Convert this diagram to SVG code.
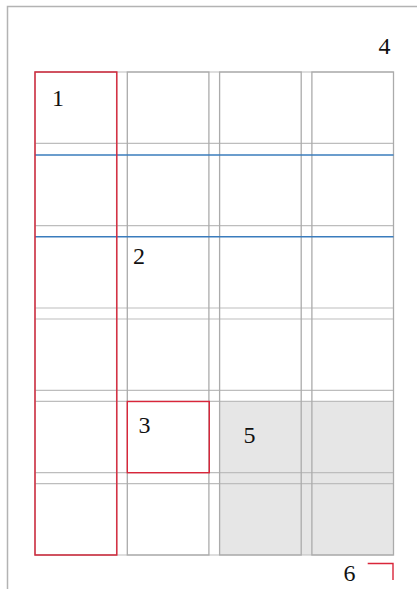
<svg xmlns="http://www.w3.org/2000/svg" width="417" height="589" viewBox="0 0 417 589">
<style>
.page{stroke:#b3b3b3;stroke-width:1.5;fill:none}
.col{fill:none;stroke:#ababab;stroke-width:1.3}
.row{stroke:#bdbdbd;stroke-width:1.2}
.base{stroke:#3a7cbd;stroke-width:1.4}
.red{fill:none;stroke:#d9263a;stroke-width:1.4}
.lbl{font-family:"Liberation Serif","Times New Roman",serif;font-size:24px;fill:#111;text-anchor:middle}
</style>
<rect width="417" height="589" fill="#ffffff"/>
<g id="page">
<polyline class="page" points="7.5,589 7.5,6.5 417,6.5"/>
</g>
<g id="shade">
<rect x="219.6" y="401.3" width="173.9" height="153.7" fill="#e6e6e6"/>
</g>
<g id="grid">
<g id="rows">
<line class="row" x1="35" y1="72" x2="393.5" y2="72"/>
<line class="row" x1="35" y1="143.3" x2="393.5" y2="143.3"/>
<line class="row" x1="35" y1="225.7" x2="393.5" y2="225.7"/>
<line class="row" x1="35" y1="308" x2="393.5" y2="308"/>
<line class="row" x1="35" y1="319" x2="393.5" y2="319"/>
<line class="row" x1="35" y1="390.3" x2="393.5" y2="390.3"/>
<line class="row" x1="35" y1="401.3" x2="393.5" y2="401.3"/>
<line class="row" x1="35" y1="472.7" x2="393.5" y2="472.7"/>
<line class="row" x1="35" y1="483.7" x2="393.5" y2="483.7"/>
<line class="row" x1="35" y1="555" x2="393.5" y2="555"/>
</g>
<g id="cols">
<rect class="col" x="35" y="72" width="81.6" height="483"/>
<rect class="col" x="127.3" y="72" width="81.6" height="483"/>
<rect class="col" x="219.6" y="72" width="81.6" height="483"/>
<rect class="col" x="311.9" y="72" width="81.6" height="483"/>
</g>
<g id="baselines">
<line class="base" x1="35" y1="155" x2="393.5" y2="155"/>
<line class="base" x1="35" y1="236.8" x2="393.5" y2="236.8"/>
</g>
</g>
<g id="node1">
<rect class="red" x="35" y="72" width="81.8" height="483"/>
<text class="lbl" x="58" y="105.5">1</text>
</g>
<g id="node2">
<text class="lbl" x="139" y="264">2</text>
</g>
<g id="node3">
<rect class="red" x="127.3" y="401.5" width="82" height="71.2"/>
<text class="lbl" x="144.5" y="433">3</text>
</g>
<g id="node4">
<text class="lbl" x="384.5" y="53.5">4</text>
</g>
<g id="node5">
<text class="lbl" x="249.5" y="443">5</text>
</g>
<g id="node6">
<text class="lbl" x="349.5" y="581">6</text>
<polyline class="red" points="367.7,563.5 393,563.5 393,580"/>
</g>
</svg>
